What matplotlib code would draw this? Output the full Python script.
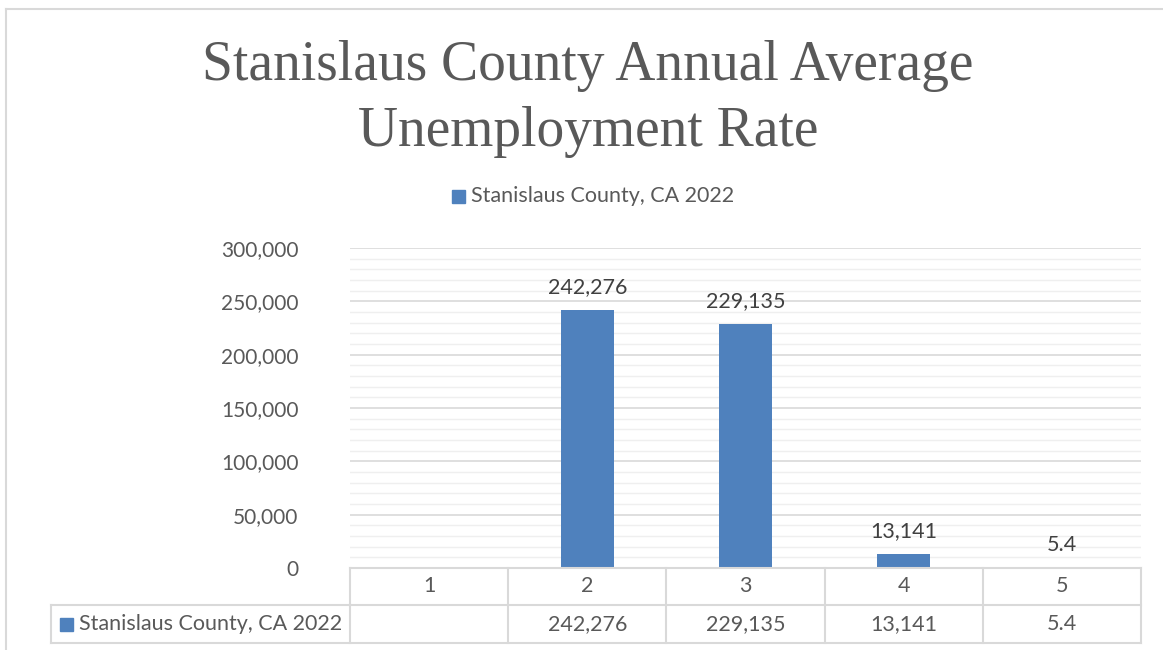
import matplotlib
matplotlib.use("Agg")
import matplotlib.pyplot as plt
from matplotlib.lines import Line2D
from matplotlib.patches import Rectangle
import matplotlib.transforms as mtransforms

# Data
categories = ["1", "2", "3", "4", "5"]
values = [None, 242276, 229135, 13141, 5.4]
value_labels = ["", "242,276", "229,135", "13,141", "5.4"]
series_name = "Stanislaus County, CA 2022"
title = "Stanislaus County Annual Average\nUnemployment Rate"
y_ticks = [0, 50000, 100000, 150000, 200000, 250000, 300000]
y_tick_labels = ["0", "50,000", "100,000", "150,000", "200,000", "250,000", "300,000"]

W, H = 1163, 650
BAR = "#4f81bd"
TXT = "#595959"
LBL = "#404040"
GRID = "#d9d9d9"
MINOR = "#efefef"
BODY = "Lato"
FS = 15.5

fig = plt.figure(figsize=(W / 100, H / 100), dpi=100)
fig.patch.set_facecolor("white")

# outer chart frame (left and top edges visible)
fig.add_artist(Line2D([5.5 / W, 5.5 / W], [0, 1 - 8.5 / H], transform=fig.transFigure,
                      color=GRID, lw=1.5))
fig.add_artist(Line2D([5.5 / W, 1], [1 - 8.5 / H, 1 - 8.5 / H], transform=fig.transFigure,
                      color=GRID, lw=1.5))

# plot area
px_l, px_r, px_top, px_bot = 350, 1141, 248, 568
ax = fig.add_axes([px_l / W, 1 - px_bot / H, (px_r - px_l) / W, (px_bot - px_top) / H])
ax.set_xlim(0.5, 5.5)
ax.set_ylim(0, 300000)
for s in ax.spines.values():
    s.set_visible(False)

# gridlines
for v in range(10000, 300001, 10000):
    major = v % 50000 == 0
    ax.axhline(v, color=GRID if major else MINOR, lw=1.2 if major else 1.0, zorder=0)

xs = [i + 1 for i in range(len(categories))]
bar_x = [x for x, v in zip(xs, values) if v is not None]
bar_v = [v for v in values if v is not None]
ax.bar(bar_x, bar_v, width=0.335, color=BAR, zorder=2)

for x, v, lab in zip(xs, values, value_labels):
    if v is None:
        continue
    ax.annotate(lab, (x, v), xytext=(0, 9), textcoords="offset points",
                ha="center", va="bottom", fontsize=FS, color=LBL, family=BODY)

ax.set_xticks([])
ax.set_yticks(y_ticks)
ax.set_yticklabels(y_tick_labels)
ax.tick_params(axis="y", length=0, pad=37, labelsize=15, labelcolor=TXT)
for t in ax.get_yticklabels():
    t.set_family(BODY)

# data table beneath the plot
row_h = 37 / (px_bot - px_top)
r1 = -row_h
r2 = -2 * row_h - 1 / (px_bot - px_top)
blend = mtransforms.blended_transform_factory(ax.transData, ax.transAxes)
tab_kw = dict(color=GRID, lw=1.5, clip_on=False, zorder=3)
left_frac = (51 - px_l) / (px_r - px_l)
# horizontal rules
ax.plot([0.5, 5.5], [0, 0], transform=blend, **tab_kw)
ax.plot([0, 1], [r1, r1], transform=ax.transAxes, **tab_kw)
ax.plot([left_frac, 0], [r1, r1], transform=ax.transAxes, **tab_kw)
ax.plot([left_frac, 1], [r2, r2], transform=ax.transAxes, **tab_kw)
# vertical rules
for b in [0.5, 1.5, 2.5, 3.5, 4.5, 5.5]:
    ax.plot([b, b], [0, r2], transform=blend, **tab_kw)
ax.plot([left_frac, left_frac], [r1, r2], transform=ax.transAxes, **tab_kw)

for x, c, lab in zip(xs, categories, value_labels):
    ax.text(x, r1 / 2, c, transform=blend, ha="center", va="center",
            fontsize=FS, color=TXT, family=BODY)
    ax.text(x, (r1 + r2) / 2, lab, transform=blend, ha="center", va="center",
            fontsize=FS, color=TXT, family=BODY)

# series key inside the table
key_x = (60 - px_l) / (px_r - px_l)
key_w = 13 / (px_r - px_l)
key_h = 13 / (px_bot - px_top)
ax.add_patch(Rectangle((key_x, (r1 + r2) / 2 - key_h / 2), key_w, key_h,
                       transform=ax.transAxes, color=BAR, clip_on=False))
ax.text((79 - px_l) / (px_r - px_l), (r1 + r2) / 2, series_name, transform=ax.transAxes,
        ha="left", va="center", fontsize=FS, color=TXT, family=BODY)

# legend above the plot
fig.add_artist(Rectangle((452 / W, 1 - 203 / H), 13 / W, 13 / H,
                         transform=fig.transFigure, color=BAR))
fig.text(471 / W, 1 - 196 / H, series_name, ha="left", va="center",
         fontsize=FS, color=TXT, family=BODY)

# title
fig.text(588 / W, 1 - 99 / H, title, ha="center", va="center", fontsize=40,
         color=TXT, family="Liberation Serif", linespacing=1.35)

fig.savefig("out.png", dpi=100, facecolor="white")
